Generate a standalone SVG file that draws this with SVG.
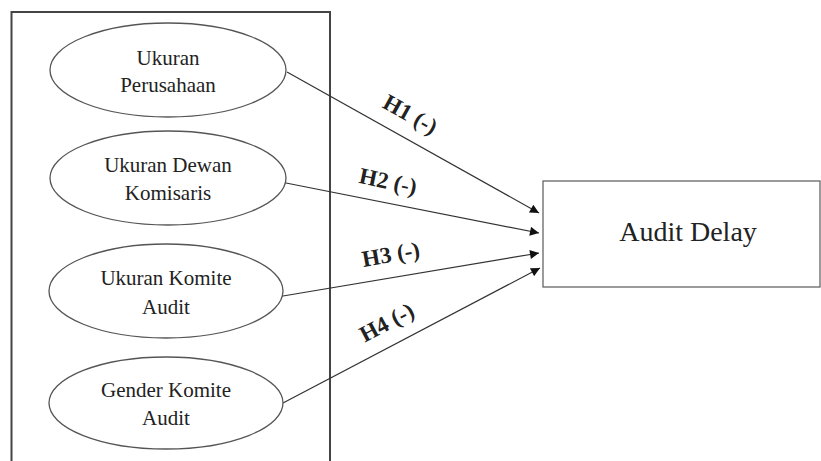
<svg xmlns="http://www.w3.org/2000/svg" width="821" height="461" viewBox="0 0 821 461">
<style>
.ell{fill:#fff;stroke:#555;stroke-width:1.3}
.t{font-family:"Liberation Serif","Times New Roman",serif;font-size:21px;fill:#222;text-anchor:middle}
.lbl{font-family:"Liberation Serif","Times New Roman",serif;font-size:23px;font-weight:bold;fill:#222;text-anchor:middle}
.con{stroke:#333;stroke-width:1.2;fill:none;marker-end:url(#ah)}
</style>
<defs>
<marker id="ah" viewBox="0 0 10 10" refX="10" refY="5" markerWidth="12" markerHeight="9" markerUnits="userSpaceOnUse" orient="auto">
<path d="M0,0 L10,5 L0,10 z" fill="#111"/>
</marker>
</defs>
<rect width="821" height="461" fill="#fff"/>
<g id="frame">
<path d="M11.5,470 V12 H330 V470" fill="none" stroke="#444" stroke-width="2"/>
</g>
<g id="connectors">
<line class="con" x1="287" y1="72" x2="539" y2="213"/>
<line class="con" x1="286" y1="183" x2="539" y2="233"/>
<line class="con" x1="283" y1="296" x2="539" y2="253"/>
<line class="con" x1="283" y1="403" x2="540" y2="268"/>
<text class="lbl" transform="translate(410,115) rotate(29)" y="7">H1 (-)</text>
<text class="lbl" transform="translate(388,182) rotate(12)" y="7">H2 (-)</text>
<text class="lbl" transform="translate(391,255) rotate(-10)" y="7">H3 (-)</text>
<text class="lbl" transform="translate(387,323) rotate(-28)" y="7">H4 (-)</text>
</g>
<g id="n1">
<ellipse class="ell" cx="168" cy="70" rx="118" ry="47"/>
<text class="t" x="168" y="65">Ukuran</text>
<text class="t" x="168" y="92">Perusahaan</text>
</g>
<g id="n2">
<ellipse class="ell" cx="168" cy="178" rx="118" ry="47"/>
<text class="t" x="168" y="172">Ukuran Dewan</text>
<text class="t" x="168" y="200">Komisaris</text>
</g>
<g id="n3">
<ellipse class="ell" cx="166" cy="291" rx="117" ry="47"/>
<text class="t" x="166" y="285">Ukuran Komite</text>
<text class="t" x="166" y="314">Audit</text>
</g>
<g id="n4">
<ellipse class="ell" cx="166" cy="403" rx="117" ry="46"/>
<text class="t" x="166" y="397">Gender Komite</text>
<text class="t" x="166" y="425">Audit</text>
</g>
<g id="audit">
<rect x="543" y="181" width="277" height="106" fill="#fff" stroke="#666" stroke-width="1.3"/>
<text class="t" x="688" y="241" style="font-size:28px">Audit Delay</text>
</g>
</svg>
